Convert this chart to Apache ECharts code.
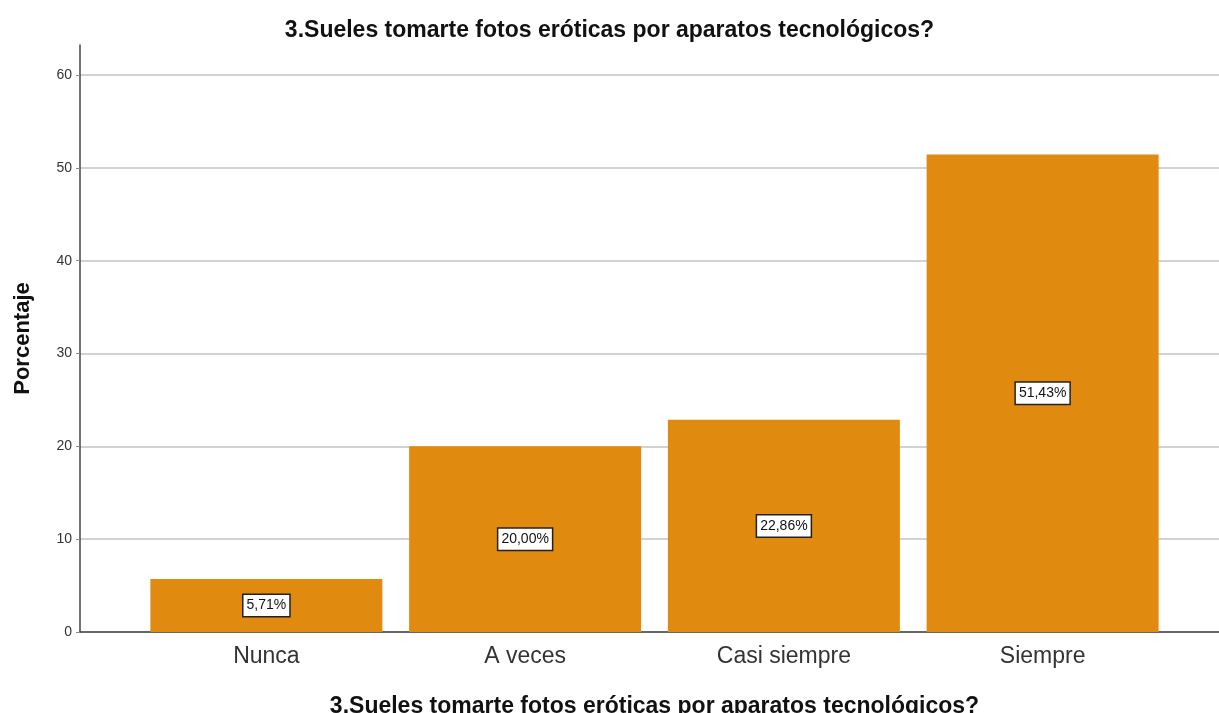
<!DOCTYPE html>
<html>
<head>
<meta charset="utf-8">
<script src="https://cdn.jsdelivr.net/npm/echarts@6/dist/echarts.min.js"></script>
<style>
  html, body { margin: 0; padding: 0; background: #fff; }
  #chart { width: 1219px; height: 713px; }
</style>
</head>
<body>
<div id="chart"></div>
<script>
// datos
var categorias = ['Nunca', 'A veces', 'Casi siempre', 'Siempre'];
var porcentajes = [5.71, 20.00, 22.86, 51.43];
var titulo = '3.Sueles tomarte fotos eróticas por aparatos tecnológicos?';

var chartDom = document.getElementById('chart');
var myChart = echarts.init(chartDom);

var option = {
  animation: false,
  title: {
    text: titulo,
    left: 'center',
    top: 14,
    textStyle: { fontFamily: 'Liberation Sans', fontSize: 23, fontWeight: 'bold', color: '#111' }
  },
  grid: [
    // ejes (lineas)
    { left: 80, right: 0, top: 45, bottom: 81, outerBoundsMode: 'none' },
    // lineas de cuadricula y etiquetas
    { left: 80, right: 0, top: 75, bottom: 81, outerBoundsMode: 'none' },
    // barras
    { left: 137, right: 47, top: 75, bottom: 81, outerBoundsMode: 'none' }
  ],
  xAxis: [
    {
      gridIndex: 0, type: 'value', min: 0, max: 1,
      axisLine: { show: true, lineStyle: { color: '#444', width: 1.5 } },
      axisTick: { show: false }, axisLabel: { show: false }, splitLine: { show: false }
    },
    {
      gridIndex: 1, type: 'value', min: 0, max: 1, show: false
    },
    {
      gridIndex: 2, type: 'category', data: categorias,
      axisLine: { show: false }, axisTick: { show: false },
      axisLabel: { fontFamily: 'Liberation Sans', fontSize: 23, color: '#333', margin: 13 },
      name: titulo, nameLocation: 'middle', nameGap: 63,
      nameTextStyle: { fontFamily: 'Liberation Sans', fontSize: 23, fontWeight: 'bold', color: '#111' }
    }
  ],
  yAxis: [
    {
      gridIndex: 0, type: 'value', min: 0, max: 63.2,
      axisLine: { show: true, lineStyle: { color: '#444', width: 1.5 } },
      axisTick: { show: false }, axisLabel: { show: false }, splitLine: { show: false },
      name: 'Porcentaje', nameLocation: 'middle', nameGap: 46, nameRotate: 90,
      nameTextStyle: { fontFamily: 'Liberation Sans', fontSize: 22, fontWeight: 'bold', color: '#111' }
    },
    {
      gridIndex: 1, type: 'value', min: 0, max: 60, interval: 10,
      axisLine: { show: false },
      axisTick: { show: true, length: 4, lineStyle: { color: '#888' } },
      axisLabel: { fontFamily: 'Liberation Sans', fontSize: 14, color: '#333', margin: 8 },
      splitLine: { show: true, lineStyle: { color: '#d2d2d2', width: 2 } }
    },
    {
      gridIndex: 2, type: 'value', min: 0, max: 60, show: false
    }
  ],
  series: [
    {
      type: 'bar',
      xAxisIndex: 2,
      yAxisIndex: 2,
      data: porcentajes,
      barWidth: 232,
      itemStyle: { color: '#e08a10' },
      label: {
        show: true,
        position: 'inside',
        formatter: function (p) { return p.value.toFixed(2).replace('.', ',') + '%'; },
        fontFamily: 'Liberation Sans',
        fontSize: 14,
        color: '#111',
        backgroundColor: '#fff',
        borderColor: '#222',
        borderWidth: 1.5,
        padding: [4, 3, 3, 3]
      }
    }
  ]
};

option && myChart.setOption(option);
</script>
</body>
</html>
